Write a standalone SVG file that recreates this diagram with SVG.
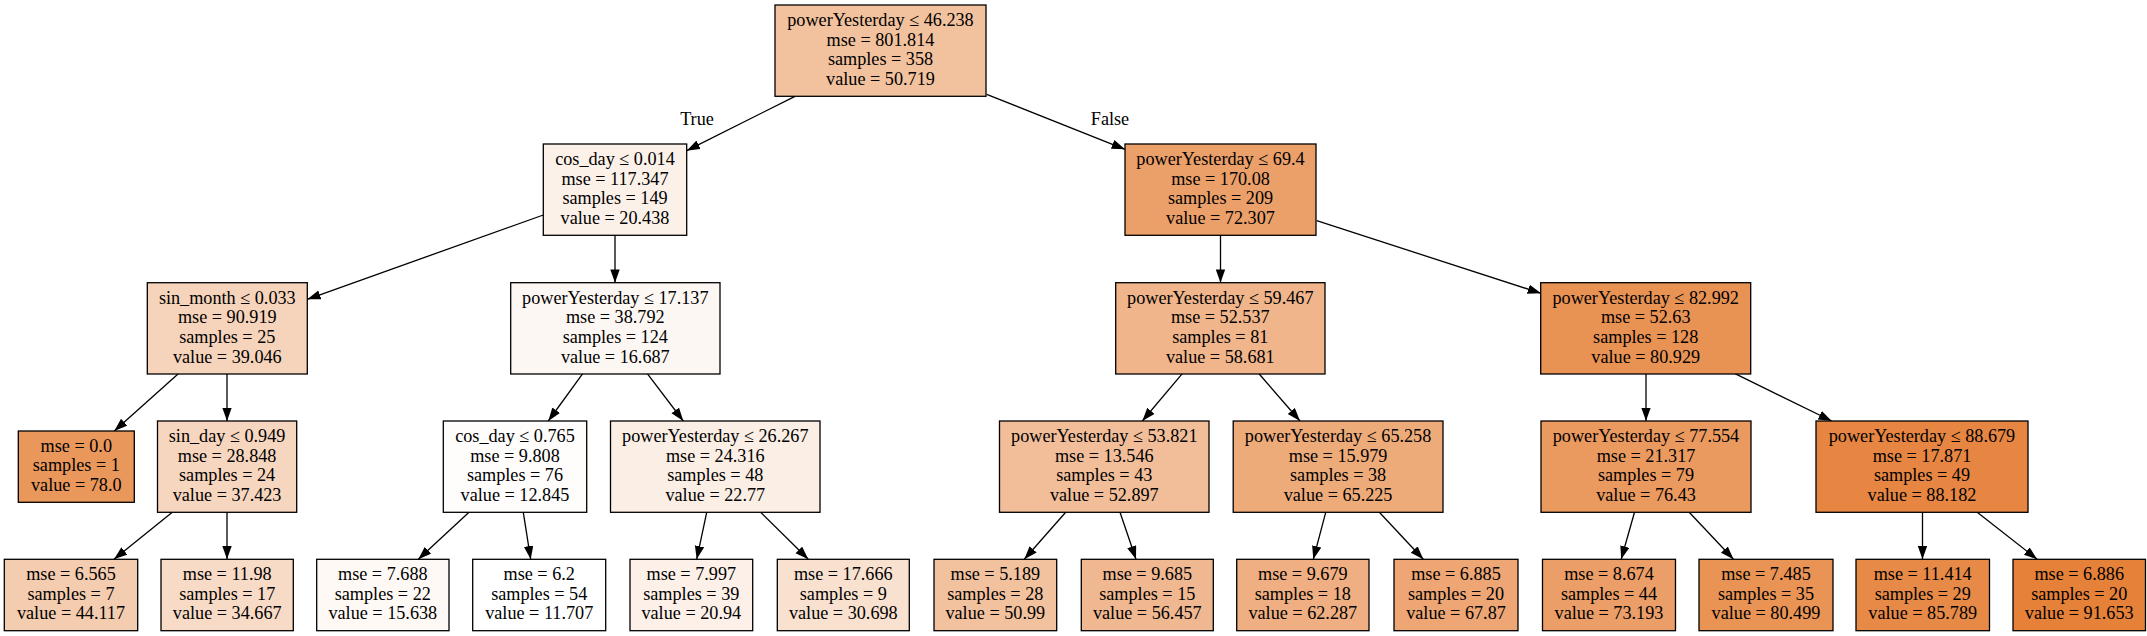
<svg xmlns="http://www.w3.org/2000/svg" width="2147" height="636" viewBox="0 0 2147 636">
<style>
.n rect{stroke:#000;stroke-width:1.3}
text{font-family:"Liberation Serif","Times New Roman",serif;font-size:18.2px;text-anchor:middle;fill:#000}
.e line{stroke:#000;stroke-width:1.3;marker-end:url(#ah)}
</style>
<defs>
<marker id="ah" markerUnits="userSpaceOnUse" markerWidth="15" markerHeight="11" refX="13.3" refY="4.7" orient="auto"><path d="M0,0 L13.3,4.7 L0,9.4 z" fill="#000"/></marker>
</defs>
<rect x="0" y="0" width="2147" height="636" fill="#fff"/>
<g class="e" id="connectors">
<line x1="795" y1="96.3" x2="686.7" y2="150.7"/>
<line x1="986.7" y1="94.3" x2="1125" y2="149.3"/>
<line x1="543.3" y1="215" x2="307.3" y2="299.3"/>
<line x1="615" y1="235" x2="615" y2="282.7"/>
<line x1="178.3" y1="373.7" x2="114.3" y2="431"/>
<line x1="227" y1="373.7" x2="227" y2="421"/>
<line x1="172.3" y1="512.3" x2="114" y2="559.3"/>
<line x1="227" y1="512.3" x2="227" y2="559.3"/>
<line x1="582.7" y1="373.7" x2="548.3" y2="421"/>
<line x1="647.3" y1="373.7" x2="683.3" y2="421"/>
<line x1="469" y1="512.3" x2="418.3" y2="559.3"/>
<line x1="523.3" y1="512.3" x2="530.7" y2="559.3"/>
<line x1="706.7" y1="512.3" x2="696.7" y2="559.3"/>
<line x1="760.7" y1="512.3" x2="808.3" y2="559.3"/>
<line x1="1220.5" y1="235" x2="1220.5" y2="282.7"/>
<line x1="1316.7" y1="220.7" x2="1541" y2="293.3"/>
<line x1="1182.3" y1="373.7" x2="1142.3" y2="421"/>
<line x1="1259" y1="373.7" x2="1300" y2="421"/>
<line x1="1065.7" y1="512.3" x2="1024.3" y2="559.3"/>
<line x1="1120" y1="512.3" x2="1136" y2="559.3"/>
<line x1="1325.7" y1="512.3" x2="1313.3" y2="559.3"/>
<line x1="1379.3" y1="512.3" x2="1423.3" y2="559.3"/>
<line x1="1646" y1="373.7" x2="1646" y2="421"/>
<line x1="1735" y1="373.7" x2="1831.7" y2="421"/>
<line x1="1634.5" y1="512.3" x2="1621.2" y2="559.3"/>
<line x1="1689.2" y1="512.3" x2="1733.5" y2="559.3"/>
<line x1="1922.5" y1="512.3" x2="1922.5" y2="559.3"/>
<line x1="1977.2" y1="512.3" x2="2037.2" y2="559.3"/>
<text x="697" y="125">True</text>
<text x="1110" y="125">False</text>
</g>
<g class="n" id="node0"><rect x="775" y="5" width="211" height="91.3" fill="#f2c29e"/><text x="880.5" y="26">powerYesterday ≤ 46.238</text><text x="880.5" y="45.6">mse = 801.814</text><text x="880.5" y="65.2">samples = 358</text><text x="880.5" y="84.8">value = 50.719</text></g>
<g class="n" id="node1"><rect x="543.3" y="144" width="143.4" height="91.3" fill="#fcf1e9"/><text x="615" y="165">cos_day ≤ 0.014</text><text x="615" y="184.6">mse = 117.347</text><text x="615" y="204.2">samples = 149</text><text x="615" y="223.8">value = 20.438</text></g>
<g class="n" id="node2"><rect x="1125" y="144" width="191" height="91.3" fill="#eb9f69"/><text x="1220.5" y="165">powerYesterday ≤ 69.4</text><text x="1220.5" y="184.6">mse = 170.08</text><text x="1220.5" y="204.2">samples = 209</text><text x="1220.5" y="223.8">value = 72.307</text></g>
<g class="n" id="node3"><rect x="147.3" y="282.7" width="160" height="91.3" fill="#f6d4bb"/><text x="227.3" y="303.7">sin_month ≤ 0.033</text><text x="227.3" y="323.3">mse = 90.919</text><text x="227.3" y="342.9">samples = 25</text><text x="227.3" y="362.5">value = 39.046</text></g>
<g class="n" id="node4"><rect x="510.7" y="282.7" width="209.3" height="91.3" fill="#fdf7f3"/><text x="615.3" y="303.7">powerYesterday ≤ 17.137</text><text x="615.3" y="323.3">mse = 38.792</text><text x="615.3" y="342.9">samples = 124</text><text x="615.3" y="362.5">value = 16.687</text></g>
<g class="n" id="node5"><rect x="1115.7" y="282.7" width="209.3" height="91.3" fill="#f0b58b"/><text x="1220.3" y="303.7">powerYesterday ≤ 59.467</text><text x="1220.3" y="323.3">mse = 52.537</text><text x="1220.3" y="342.9">samples = 81</text><text x="1220.3" y="362.5">value = 58.681</text></g>
<g class="n" id="node6"><rect x="1540.7" y="282.7" width="210" height="91.3" fill="#e89254"/><text x="1645.7" y="303.7">powerYesterday ≤ 82.992</text><text x="1645.7" y="323.3">mse = 52.63</text><text x="1645.7" y="342.9">samples = 128</text><text x="1645.7" y="362.5">value = 80.929</text></g>
<g class="n" id="node7"><rect x="18.3" y="431" width="116" height="71.3" fill="#e9975b"/><text x="76.3" y="451.7">mse = 0.0</text><text x="76.3" y="471.3">samples = 1</text><text x="76.3" y="490.9">value = 78.0</text></g>
<g class="n" id="node8"><rect x="157.5" y="421" width="139.2" height="91.3" fill="#f7d6bf"/><text x="227.1" y="442">sin_day ≤ 0.949</text><text x="227.1" y="461.6">mse = 28.848</text><text x="227.1" y="481.2">samples = 24</text><text x="227.1" y="500.8">value = 37.423</text></g>
<g class="n" id="node9"><rect x="443.3" y="421" width="143.4" height="91.3" fill="#fffdfc"/><text x="515" y="442">cos_day ≤ 0.765</text><text x="515" y="461.6">mse = 9.808</text><text x="515" y="481.2">samples = 76</text><text x="515" y="500.8">value = 12.845</text></g>
<g class="n" id="node10"><rect x="610.5" y="421" width="209.5" height="91.3" fill="#fbeee4"/><text x="715.3" y="442">powerYesterday ≤ 26.267</text><text x="715.3" y="461.6">mse = 24.316</text><text x="715.3" y="481.2">samples = 48</text><text x="715.3" y="500.8">value = 22.77</text></g>
<g class="n" id="node11"><rect x="999.5" y="421" width="209.5" height="91.3" fill="#f2be99"/><text x="1104.3" y="442">powerYesterday ≤ 53.821</text><text x="1104.3" y="461.6">mse = 13.546</text><text x="1104.3" y="481.2">samples = 43</text><text x="1104.3" y="500.8">value = 52.897</text></g>
<g class="n" id="node12"><rect x="1233.2" y="421" width="209.8" height="91.3" fill="#eeab7a"/><text x="1338.1" y="442">powerYesterday ≤ 65.258</text><text x="1338.1" y="461.6">mse = 15.979</text><text x="1338.1" y="481.2">samples = 38</text><text x="1338.1" y="500.8">value = 65.225</text></g>
<g class="n" id="node13"><rect x="1541" y="421" width="210" height="91.3" fill="#ea995f"/><text x="1646" y="442">powerYesterday ≤ 77.554</text><text x="1646" y="461.6">mse = 21.317</text><text x="1646" y="481.2">samples = 79</text><text x="1646" y="500.8">value = 76.43</text></g>
<g class="n" id="node14"><rect x="1816" y="421" width="212" height="91.3" fill="#e68642"/><text x="1922" y="442">powerYesterday ≤ 88.679</text><text x="1922" y="461.6">mse = 17.871</text><text x="1922" y="481.2">samples = 49</text><text x="1922" y="500.8">value = 88.182</text></g>
<g class="n" id="leaf1"><rect x="4.3" y="559.3" width="133.4" height="71.4" fill="#f4ccaf"/><text x="71" y="580">mse = 6.565</text><text x="71" y="599.6">samples = 7</text><text x="71" y="619.2">value = 44.117</text></g>
<g class="n" id="leaf2"><rect x="161" y="559.3" width="132.3" height="71.4" fill="#f8dbc6"/><text x="227.2" y="580">mse = 11.98</text><text x="227.2" y="599.6">samples = 17</text><text x="227.2" y="619.2">value = 34.667</text></g>
<g class="n" id="leaf3"><rect x="316.7" y="559.3" width="132.3" height="71.4" fill="#fef9f5"/><text x="382.8" y="580">mse = 7.688</text><text x="382.8" y="599.6">samples = 22</text><text x="382.8" y="619.2">value = 15.638</text></g>
<g class="n" id="leaf4"><rect x="472.7" y="559.3" width="133" height="71.4" fill="#ffffff"/><text x="539.2" y="580">mse = 6.2</text><text x="539.2" y="599.6">samples = 54</text><text x="539.2" y="619.2">value = 11.707</text></g>
<g class="n" id="leaf5"><rect x="630" y="559.3" width="122.7" height="71.4" fill="#fcf0e8"/><text x="691.3" y="580">mse = 7.997</text><text x="691.3" y="599.6">samples = 39</text><text x="691.3" y="619.2">value = 20.94</text></g>
<g class="n" id="leaf6"><rect x="777.3" y="559.3" width="132" height="71.4" fill="#f9e1d0"/><text x="843.3" y="580">mse = 17.666</text><text x="843.3" y="599.6">samples = 9</text><text x="843.3" y="619.2">value = 30.698</text></g>
<g class="n" id="leaf7"><rect x="934" y="559.3" width="122.7" height="71.4" fill="#f2c19e"/><text x="995.3" y="580">mse = 5.189</text><text x="995.3" y="599.6">samples = 28</text><text x="995.3" y="619.2">value = 50.99</text></g>
<g class="n" id="leaf8"><rect x="1081.3" y="559.3" width="132" height="71.4" fill="#f0b890"/><text x="1147.3" y="580">mse = 9.685</text><text x="1147.3" y="599.6">samples = 15</text><text x="1147.3" y="619.2">value = 56.457</text></g>
<g class="n" id="leaf9"><rect x="1236.7" y="559.3" width="132.3" height="71.4" fill="#efaf82"/><text x="1302.8" y="580">mse = 9.679</text><text x="1302.8" y="599.6">samples = 18</text><text x="1302.8" y="619.2">value = 62.287</text></g>
<g class="n" id="leaf10"><rect x="1394" y="559.3" width="124" height="71.4" fill="#eda674"/><text x="1456" y="580">mse = 6.885</text><text x="1456" y="599.6">samples = 20</text><text x="1456" y="619.2">value = 67.87</text></g>
<g class="n" id="leaf11"><rect x="1542.5" y="559.3" width="133" height="71.4" fill="#eb9e67"/><text x="1609" y="580">mse = 8.674</text><text x="1609" y="599.6">samples = 44</text><text x="1609" y="619.2">value = 73.193</text></g>
<g class="n" id="leaf12"><rect x="1699" y="559.3" width="134" height="71.4" fill="#e99355"/><text x="1766" y="580">mse = 7.485</text><text x="1766" y="599.6">samples = 35</text><text x="1766" y="619.2">value = 80.499</text></g>
<g class="n" id="leaf13"><rect x="1856" y="559.3" width="133.5" height="71.4" fill="#e78a48"/><text x="1922.7" y="580">mse = 11.414</text><text x="1922.7" y="599.6">samples = 29</text><text x="1922.7" y="619.2">value = 85.789</text></g>
<g class="n" id="leaf14"><rect x="2013" y="559.3" width="132.5" height="71.4" fill="#e58139"/><text x="2079.2" y="580">mse = 6.886</text><text x="2079.2" y="599.6">samples = 20</text><text x="2079.2" y="619.2">value = 91.653</text></g>
</svg>
